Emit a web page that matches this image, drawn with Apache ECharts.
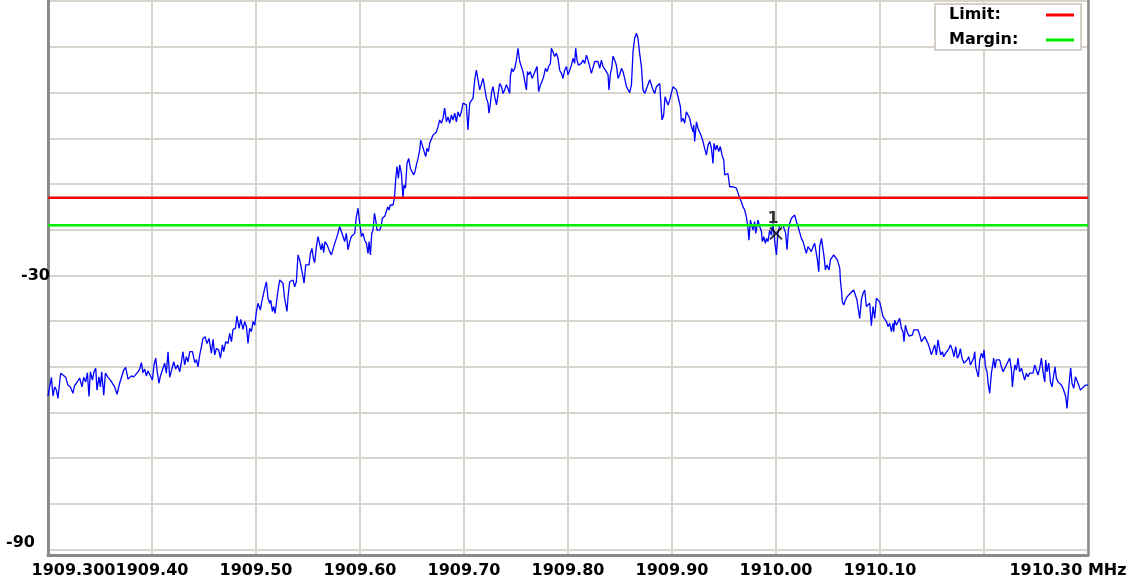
<!DOCTYPE html>
<html><head><meta charset="utf-8">
<script src="https://cdn.jsdelivr.net/npm/echarts@6/dist/echarts.min.js"></script>
<style>html,body{margin:0;padding:0;background:#fff}#c{width:1139px;height:584px}</style>
</head><body><div id="c"></div>
<script>
// ---- data ----
const freqMHz = [
1909.3000,1909.3010,1909.3033,1909.3048,1909.3064,1909.3081,1909.3096,1909.3106,1909.3122,1909.3144,
1909.3170,1909.3192,1909.3215,1909.3240,1909.3254,1909.3273,1909.3288,1909.3305,1909.3327,1909.3343,
1909.3363,1909.3379,1909.3394,1909.3408,1909.3427,1909.3442,1909.3459,1909.3471,1909.3490,1909.3504,
1909.3516,1909.3536,1909.3552,1909.3577,1909.3600,1909.3619,1909.3641,1909.3663,1909.3689,1909.3706,
1909.3728,1909.3747,1909.3769,1909.3786,1909.3802,1909.3824,1909.3843,1909.3865,1909.3882,1909.3898,
1909.3913,1909.3930,1909.3946,1909.3962,1909.3978,1909.4004,1909.4019,1909.4036,1909.4048,1909.4067,
1909.4081,1909.4100,1909.4122,1909.4138,1909.4154,1909.4170,1909.4187,1909.4209,1909.4228,1909.4247,
1909.4266,1909.4283,1909.4298,1909.4314,1909.4331,1909.4346,1909.4363,1909.4389,1909.4411,1909.4427,
1909.4442,1909.4459,1909.4475,1909.4490,1909.4510,1909.4529,1909.4548,1909.4571,1909.4587,1909.4603,
1909.4619,1909.4641,1909.4658,1909.4677,1909.4689,1909.4709,1909.4731,1909.4747,1909.4764,1909.4779,
1909.4802,1909.4817,1909.4837,1909.4853,1909.4875,1909.4891,1909.4908,1909.4923,1909.4939,1909.4956,
1909.4971,1909.4988,1909.5004,1909.5019,1909.5042,1909.5055,1909.5074,1909.5087,1909.5100,1909.5115,
1909.5132,1909.5141,1909.5158,1909.5170,1909.5183,1909.5196,1909.5212,1909.5228,1909.5244,1909.5260,
1909.5273,1909.5286,1909.5298,1909.5308,1909.5324,1909.5340,1909.5356,1909.5372,1909.5388,1909.5404,
1909.5420,1909.5437,1909.5452,1909.5462,1909.5478,1909.5490,1909.5510,1909.5523,1909.5538,1909.5552,
1909.5564,1909.5581,1909.5596,1909.5613,1909.5625,1909.5638,1909.5651,1909.5663,1909.5683,1909.5696,
1909.5709,1909.5725,1909.5740,1909.5757,1909.5773,1909.5788,1909.5805,1909.5821,1909.5837,1909.5853,
1909.5869,1909.5885,1909.5901,1909.5917,1909.5933,1909.5949,1909.5965,1909.5981,1909.5997,1909.6014,
1909.6029,1909.6045,1909.6062,1909.6077,1909.6087,1909.6100,1909.6113,1909.6125,1909.6139,1909.6151,
1909.6164,1909.6189,1909.6202,1909.6215,1909.6240,1909.6254,1909.6266,1909.6279,1909.6292,1909.6305,
1909.6317,1909.6331,1909.6343,1909.6356,1909.6369,1909.6382,1909.6398,1909.6413,1909.6423,1909.6437,
1909.6452,1909.6468,1909.6485,1909.6504,1909.6516,1909.6529,1909.6542,1909.6558,1909.6574,1909.6584,
1909.6600,1909.6613,1909.6632,1909.6644,1909.6658,1909.6670,1909.6687,1909.6702,1909.6718,1909.6735,
1909.6750,1909.6766,1909.6783,1909.6798,1909.6814,1909.6831,1909.6846,1909.6863,1909.6879,1909.6894,
1909.6911,1909.6927,1909.6942,1909.6959,1909.6975,1909.6990,1909.7007,1909.7023,1909.7038,1909.7055,
1909.7071,1909.7087,1909.7103,1909.7119,1909.7135,1909.7151,1909.7167,1909.7183,1909.7199,1909.7215,
1909.7231,1909.7240,1909.7254,1909.7266,1909.7279,1909.7295,1909.7312,1909.7327,1909.7343,1909.7360,
1909.7375,1909.7391,1909.7408,1909.7423,1909.7439,1909.7446,1909.7459,1909.7471,1909.7488,1909.7504,
1909.7519,1909.7536,1909.7552,1909.7567,1909.7584,1909.7600,1909.7610,1909.7622,1909.7638,1909.7654,
1909.7670,1909.7687,1909.7702,1909.7718,1909.7735,1909.7750,1909.7766,1909.7783,1909.7798,1909.7814,
1909.7831,1909.7840,1909.7856,1909.7872,1909.7888,1909.7904,1909.7920,1909.7937,1909.7952,1909.7968,
1909.7985,1909.8000,1909.8016,1909.8033,1909.8048,1909.8064,1909.8074,1909.8087,1909.8100,1909.8113,
1909.8129,1909.8144,1909.8161,1909.8177,1909.8192,1909.8209,1909.8225,1909.8240,1909.8257,1909.8273,
1909.8288,1909.8305,1909.8321,1909.8337,1909.8353,1909.8369,1909.8385,1909.8394,1909.8408,1909.8420,
1909.8433,1909.8449,1909.8465,1909.8481,1909.8497,1909.8514,1909.8529,1909.8545,1909.8562,1909.8577,
1909.8593,1909.8610,1909.8625,1909.8641,1909.8658,1909.8673,1909.8689,1909.8706,1909.8721,1909.8738,
1909.8754,1909.8769,1909.8786,1909.8802,1909.8817,1909.8834,1909.8850,1909.8865,1909.8882,1909.8891,
1909.8904,1909.8920,1909.8933,1909.8946,1909.8962,1909.8978,1909.8994,1909.9010,1909.9026,1909.9042,
1909.9058,1909.9081,1909.9090,1909.9106,1909.9122,1909.9138,1909.9154,1909.9170,1909.9187,1909.9202,
1909.9209,1909.9218,1909.9235,1909.9250,1909.9266,1909.9283,1909.9298,1909.9314,1909.9331,1909.9346,
1909.9363,1909.9379,1909.9394,1909.9404,1909.9420,1909.9433,1909.9449,1909.9465,1909.9481,1909.9497,
1909.9507,1909.9523,1909.9538,1909.9555,1909.9571,1909.9587,1909.9619,1909.9651,1909.9667,1909.9683,
1909.9699,1909.9715,1909.9731,1909.9740,1909.9754,1909.9769,1909.9779,1909.9795,1909.9805,1909.9827,
1909.9843,1909.9860,1909.9869,1909.9882,1909.9898,1909.9908,1909.9923,1909.9939,1909.9956,1909.9971,
1909.9988,1910.0004,1910.0019,1910.0036,1910.0052,1910.0067,1910.0093,1910.0106,1910.0119,1910.0132,
1910.0148,1910.0163,1910.0180,1910.0196,1910.0212,1910.0228,1910.0244,1910.0260,1910.0276,1910.0292,
1910.0308,1910.0340,1910.0356,1910.0372,1910.0389,1910.0398,1910.0411,1910.0420,1910.0437,1910.0452,
1910.0462,1910.0475,1910.0490,1910.0510,1910.0523,1910.0538,1910.0555,1910.0571,1910.0590,1910.0613,
1910.0619,1910.0629,1910.0638,1910.0651,1910.0667,1910.0683,1910.0699,1910.0715,1910.0731,1910.0747,
1910.0764,1910.0779,1910.0795,1910.0805,1910.0821,1910.0837,1910.0853,1910.0869,1910.0885,1910.0901,
1910.0917,1910.0933,1910.0949,1910.0965,1910.0981,1910.0997,1910.1014,1910.1029,1910.1045,1910.1062,
1910.1077,1910.1093,1910.1110,1910.1125,1910.1132,1910.1141,1910.1158,1910.1173,1910.1189,1910.1206,
1910.1221,1910.1231,1910.1244,1910.1260,1910.1279,1910.1312,1910.1324,1910.1365,1910.1382,1910.1398,
1910.1413,1910.1430,1910.1446,1910.1462,1910.1478,1910.1494,1910.1510,1910.1526,1910.1542,1910.1558,
1910.1574,1910.1584,1910.1600,1910.1613,1910.1632,1910.1648,1910.1663,1910.1677,1910.1696,1910.1712,
1910.1728,1910.1744,1910.1760,1910.1773,1910.1788,1910.1808,1910.1824,1910.1837,1910.1853,1910.1869,
1910.1901,1910.1911,1910.1920,1910.1933,1910.1946,1910.1959,1910.1975,1910.1990,1910.2000,1910.2014,
1910.2029,1910.2042,1910.2055,1910.2071,1910.2081,1910.2093,1910.2106,1910.2119,1910.2135,1910.2151,
1910.2167,1910.2183,1910.2199,1910.2215,1910.2231,1910.2247,1910.2264,1910.2273,1910.2286,1910.2298,
1910.2312,1910.2327,1910.2343,1910.2360,1910.2375,1910.2391,1910.2408,1910.2423,1910.2439,1910.2456,
1910.2471,1910.2488,1910.2504,1910.2519,1910.2536,1910.2552,1910.2567,1910.2584,1910.2593,1910.2606,
1910.2622,1910.2639,1910.2654,1910.2670,1910.2683,1910.2696,1910.2712,1910.2728,1910.2744,1910.2760,
1910.2776,1910.2786,1910.2798,1910.2812,1910.2824,1910.2834,1910.2846,1910.2863,1910.2879,1910.2894,
1910.2911,1910.2927,1910.2942,1910.2975,1910.2990,1910.3000
];
const levelDb = [
-56.4,-55.1,-52.3,-56.4,-54.4,-55.1,-56.9,-54.7,-51.4,-51.8,
-52.3,-54.0,-54.4,-55.8,-54.2,-53.6,-53.3,-52.5,-54.4,-52.3,
-53.3,-51.3,-56.5,-51.1,-52.9,-51.1,-50.3,-55.1,-52.2,-54.4,
-51.1,-56.2,-51.4,-52.3,-52.9,-52.7,-54.4,-56.0,-53.6,-53.5,
-50.7,-50.1,-52.7,-52.3,-52.0,-52.2,-51.8,-51.1,-50.5,-49.1,
-51.3,-50.5,-52.0,-50.9,-51.3,-52.9,-49.6,-48.1,-50.7,-53.6,
-52.0,-52.3,-49.2,-51.4,-46.7,-52.3,-52.7,-48.9,-50.5,-49.6,
-51.1,-48.9,-46.7,-49.6,-47.8,-48.9,-46.7,-46.7,-49.1,-48.4,
-50.0,-47.4,-45.6,-43.8,-43.4,-44.9,-43.8,-47.0,-44.0,-47.4,
-46.0,-46.3,-48.1,-45.2,-46.7,-44.5,-44.9,-42.7,-44.5,-41.8,
-41.6,-38.9,-41.6,-39.6,-41.8,-40.1,-41.2,-44.9,-41.6,-42.3,
-40.1,-40.9,-37.9,-36.1,-37.6,-35.8,-36.1,-32.5,-31.4,-35.0,
-36.1,-35.4,-37.9,-36.8,-38.3,-36.1,-33.2,-31.0,-30.6,-31.7,
-34.7,-35.0,-37.9,-34.7,-31.4,-31.7,-31.0,-32.5,-31.4,-25.5,
-26.6,-26.3,-30.3,-31.7,-27.7,-27.4,-27.7,-25.2,-24.1,-26.3,
-27.2,-23.7,-21.5,-21.2,-24.4,-23.0,-25.0,-22.6,-23.3,-23.7,
-24.8,-25.5,-25.9,-23.0,-21.9,-20.8,-19.3,-20.4,-21.5,-22.6,
-20.8,-24.4,-22.6,-21.5,-21.9,-20.8,-17.2,-15.3,-18.6,-21.5,
-20.8,-22.3,-23.0,-25.2,-22.6,-25.5,-20.8,-20.1,-16.4,-17.9,
-20.1,-20.1,-19.3,-17.5,-17.0,-17.2,-15.0,-15.7,-14.6,-14.2,
-14.6,-13.1,-9.1,-6.2,-8.8,-5.8,-7.7,-13.1,-10.2,-10.9,
-5.5,-4.4,-6.6,-6.9,-8.0,-7.3,-5.8,-4.4,-2.6,-0.4,
0.0,-2.6,-4.0,-2.2,-2.9,-1.1,-0.7,0.7,0.4,1.4,
2.5,4.0,3.3,4.4,6.6,3.6,4.7,3.3,5.1,4.0,
5.5,3.6,5.8,4.7,5.8,7.7,8.0,7.3,1.8,7.7,
7.3,8.8,12.8,14.9,14.6,10.6,10.2,13.1,12.8,8.8,
7.7,5.5,7.7,10.2,11.3,9.1,7.3,9.5,12.0,11.3,
9.8,10.6,11.7,10.9,9.8,13.5,15.3,14.6,15.3,17.1,
19.7,16.8,16.4,14.6,14.9,10.6,14.6,13.9,14.6,13.1,
13.9,14.9,15.7,10.2,11.7,12.4,13.5,15.3,14.6,15.7,
16.4,19.7,18.9,17.9,18.6,17.5,14.9,14.2,13.1,14.9,
15.7,13.9,14.9,16.0,17.5,16.4,19.7,17.1,16.0,15.7,
16.4,17.1,16.4,18.2,17.1,15.7,14.2,14.2,16.8,16.4,
16.8,15.3,17.1,15.7,15.3,14.6,13.9,10.6,14.2,15.3,
18.0,17.1,16.0,13.1,13.9,15.3,14.6,13.1,11.3,10.9,
10.0,11.7,18.9,21.9,23.0,21.9,18.6,15.7,10.6,9.8,
10.2,11.7,12.8,12.4,10.6,9.8,11.3,11.7,12.0,8.4,
4.0,5.1,9.1,8.8,7.3,8.4,8.8,11.3,11.7,10.6,
10.6,6.9,3.6,4.4,3.3,5.8,6.2,4.4,2.5,1.4,
2.9,-0.7,3.6,2.2,2.5,0.4,-0.7,-2.2,-3.7,-1.5,
-0.7,-2.2,-5.5,-1.1,-2.6,-1.5,-2.9,-1.8,-3.7,-4.7,
-8.0,-8.4,-7.7,-10.6,-10.9,-10.6,-10.9,-13.1,-13.9,-15.0,
-15.7,-17.2,-19.7,-22.3,-17.9,-19.3,-20.1,-18.2,-20.8,-17.9,
-19.3,-20.4,-22.6,-21.5,-23.0,-21.9,-22.6,-20.1,-21.2,-18.6,
-22.6,-25.5,-20.8,-19.0,-18.6,-19.0,-20.8,-24.4,-20.1,-18.6,
-17.5,-17.2,-16.8,-18.2,-19.3,-19.0,-21.9,-22.6,-23.0,-25.2,
-23.7,-24.8,-23.7,-23.0,-22.6,-26.6,-29.2,-23.7,-21.9,-21.5,
-25.9,-28.8,-27.7,-28.8,-26.6,-26.3,-25.5,-25.2,-26.6,-28.4,
-31.0,-33.2,-35.8,-36.5,-35.4,-34.7,-35.0,-33.9,-34.3,-33.2,
-33.6,-35.4,-37.9,-39.4,-35.4,-33.9,-33.2,-36.8,-37.2,-36.1,
-41.0,-36.8,-39.4,-35.0,-35.4,-35.8,-36.1,-39.0,-38.7,-40.1,
-41.2,-40.5,-42.3,-40.5,-42.3,-39.8,-40.9,-41.2,-39.4,-41.6,
-42.3,-44.5,-40.9,-42.3,-43.3,-43.0,-41.9,-41.9,-43.0,-44.5,
-44.3,-43.4,-43.8,-44.9,-46.0,-47.4,-47.0,-45.2,-47.4,-44.1,
-46.3,-47.4,-46.7,-47.8,-47.0,-46.7,-46.0,-45.2,-46.3,-47.8,
-45.6,-48.1,-47.4,-46.0,-48.1,-49.2,-49.6,-48.5,-47.8,-49.6,
-48.1,-46.7,-50.0,-51.1,-52.2,-48.5,-47.0,-48.1,-46.3,-50.0,
-51.1,-54.0,-55.8,-51.4,-50.0,-48.1,-50.3,-48.5,-48.1,-48.5,
-50.0,-51.1,-51.4,-49.6,-49.2,-48.1,-50.7,-54.4,-51.4,-49.6,
-50.7,-48.1,-51.1,-50.3,-50.7,-52.9,-51.4,-52.2,-51.4,-51.8,
-51.4,-49.6,-50.0,-51.8,-50.3,-48.1,-51.1,-53.3,-48.5,-51.1,
-49.2,-53.3,-54.4,-51.8,-50.0,-52.5,-53.3,-52.9,-54.0,-54.7,
-55.1,-56.5,-59.1,-55.4,-52.2,-50.3,-53.6,-54.7,-52.2,-52.5,
-54.0,-55.1,-54.7,-54.0,-53.6,-54.0
];
const limitDb = -13;
const marginDb = -19;
const lineNames = ['Limit', 'Margin'];
const markerFreq = 1910.00;
const markerDb = -20.8;
const markerText = '1';
const xMin = 1909.3, xMax = 1910.3, xStep = 0.1;
const yMin = -90, yMax = 30, yStep = 10;
const xTickLabels = ['1909.300','1909.40','1909.50','1909.60','1909.70','1909.80','1909.90','1910.00','1910.10','','1910.30 MHz'];
const yTickValues = [-30, -90];
const yTickLabels = ['-30', '-90'];

// ---- chart ----
const FONT = 'DejaVu Sans';
const GRID_COL = '#d8d4cc';
const FRAME_COL = '#8a8a8a';
const txt = {fontFamily: FONT, fontWeight: 'bold', fontSize: 16, color: '#000'};
const trace = freqMHz.map((f, i) => [f, levelDb[i]]);

const chart = echarts.init(document.getElementById('c'), null, {renderer: 'canvas'});
chart.setOption({
  animation: false,
  backgroundColor: '#ffffff',
  grid: [
    {left: 48, right: 51, top: 1.2, bottom: 34.4},   // data grid (30 .. -90 dB)
    {left: 48, right: 51, top: 0, bottom: 29}         // frame grid
  ],
  xAxis: [
    {gridIndex: 0, type: 'value', min: xMin, max: xMax, show: false},
    {gridIndex: 1, type: 'value', min: xMin, max: xMax, interval: xStep, position: 'bottom',
      axisLine: {show: true, onZero: false, lineStyle: {color: FRAME_COL, width: 3}},
      axisTick: {show: false},
      splitLine: {show: true, lineStyle: {color: GRID_COL, width: 2}},
      axisLabel: Object.assign({}, txt, {
        margin: 8,
        formatter: function (v) {
          const i = Math.round((v - xMin) / xStep);
          const t = xTickLabels[i] || '';
          if (!t) return '';
          if (i === 0) return '{first|' + t + '}';
          if (i === xTickLabels.length - 1) return '{last|' + t + '}';
          return t;
        },
        rich: {
          first: Object.assign({}, txt, {padding: [0, 0, 0, 51]}),
          last: Object.assign({}, txt, {padding: [0, 40, 0, 0]})
        }
      })
    }
  ],
  yAxis: [
    {gridIndex: 0, type: 'value', min: yMin, max: yMax, interval: yStep,
      axisLine: {show: false}, axisTick: {show: false},
      splitLine: {show: true, lineStyle: {color: GRID_COL, width: 2}},
      axisLabel: Object.assign({}, txt, {
        margin: -2,
        formatter: function (v) {
          const k = yTickValues.indexOf(Math.round(v));
          if (k < 0) return '';
          return Math.round(v) === yMin ? '{low|' + yTickLabels[k] + '}' : yTickLabels[k];
        },
        rich: {low: Object.assign({}, txt, {padding: [0, 15, 14, 0]})}
      })
    },
    {gridIndex: 1, type: 'value', min: 0, max: 1, position: 'left',
      axisLine: {show: true, onZero: false, lineStyle: {color: FRAME_COL, width: 3}},
      axisTick: {show: false}, axisLabel: {show: false}, splitLine: {show: false}},
    {gridIndex: 1, type: 'value', min: 0, max: 1, position: 'right',
      axisLine: {show: true, onZero: false, lineStyle: {color: FRAME_COL, width: 2.5}},
      axisTick: {show: false}, axisLabel: {show: false}, splitLine: {show: false}}
  ],
  legend: {
    data: lineNames,
    left: 935, top: 4,
    orient: 'vertical', align: 'right',
    icon: 'rect', itemWidth: 28, itemHeight: 3, itemGap: 9,
    padding: [3, 7, 2, 14],
    backgroundColor: '#ffffff', borderColor: '#d4d0c8', borderWidth: 2,
    selectedMode: false,
    formatter: function (name) { return '{n|' + name + ':}'; },
    textStyle: Object.assign({}, txt, {
      rich: {n: Object.assign({}, txt, {width: 92, align: 'left', lineHeight: 18})}
    })
  },
  series: [
    {type: 'line', name: 'trace', xAxisIndex: 0, yAxisIndex: 0, data: trace,
      symbol: 'none', showSymbol: false, silent: true, clip: true,
      lineStyle: {color: '#0000ff', width: 1.3}, itemStyle: {color: '#0000ff'}, z: 2},
    {type: 'line', name: lineNames[0], xAxisIndex: 0, yAxisIndex: 0,
      data: [[xMin, limitDb], [xMax, limitDb]], symbol: 'none', silent: true,
      color: '#ff0000', lineStyle: {color: '#ff0000', width: 2.5}, z: 3},
    {type: 'line', name: lineNames[1], xAxisIndex: 0, yAxisIndex: 0,
      data: [[xMin, marginDb], [xMax, marginDb]], symbol: 'none', silent: true,
      color: '#00ee00', lineStyle: {color: '#00ee00', width: 2.5}, z: 3},
    {type: 'scatter', name: 'marker', xAxisIndex: 0, yAxisIndex: 0,
      data: [[markerFreq, markerDb]], silent: true,
      symbol: 'path://M0,0L10,10M10,0L0,10', symbolSize: 12,
      itemStyle: {color: 'transparent', borderColor: '#000', borderWidth: 2},
      label: Object.assign({}, txt, {show: true, position: 'top', distance: 0, offset: [-3, 0],
        formatter: function () { return markerText; }}),
      z: 4}
  ]
});
</script>
</body></html>
